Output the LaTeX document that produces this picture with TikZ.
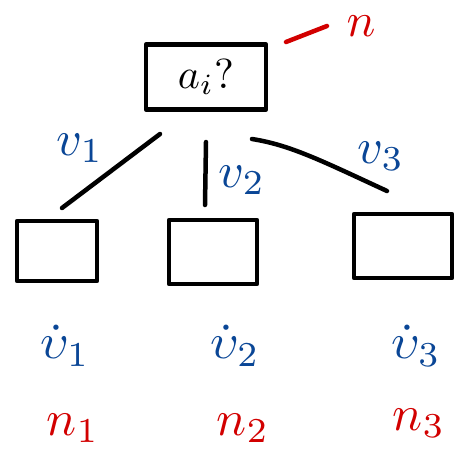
\documentclass[tikz,border=0pt]{standalone}
\usepackage{graphicx}
\usepackage{amsmath}
\definecolor{penblue}{RGB}{10,70,150}
\definecolor{penred}{RGB}{210,0,0}
\begin{document}
\begin{tikzpicture}[x=1pt,y=-1pt,
  ink/.style={line width=4.5pt,line cap=round,line join=round},
  box/.style={ink,draw=black,rectangle},
  bluelbl/.style={text=penblue,inner sep=0pt},
  redlbl/.style={text=penred,inner sep=0pt}]
\useasboundingbox (0,0) rectangle (455,458);
% top node
\node[box,minimum width=120pt,minimum height=65pt] (top) at (206,77) {\scalebox{4.2}{$a_i?$}};
\coordinate (ndash1) at (286,42);
\coordinate (ndash2) at (327,26);
\draw[ink,penred] (ndash1) -- (ndash2);
\node[redlbl] (n) at (361,26) {\scalebox{4.8}{$n$}};
% children
\node[box,minimum width=80pt,minimum height=60pt] (c1) at (57,251) {};
\node[box,minimum width=88pt,minimum height=64pt] (c2) at (213,252) {};
\node[box,minimum width=98pt,minimum height=64pt] (c3) at (403,246) {};
% edges
\coordinate (e1s) at (160,134);
\coordinate (e1e) at (62,208);
\coordinate (e2s) at (206,142);
\coordinate (e2e) at (205,205);
\coordinate (e3s) at (252,139);
\coordinate (e3e) at (387,191);
\draw[ink] (e1s) -- (e1e);
\draw[ink] (e2s) -- (e2e);
\draw[ink] (e3s) .. controls (290,145) and (320,160) .. (e3e);
\node[bluelbl] (v1) at (80,148) {\scalebox{5}{$v_1$}};
\node[bluelbl] (v2) at (242,180) {\scalebox{5}{$v_2$}};
\node[bluelbl] (v3) at (381,156) {\scalebox{5}{$v_3$}};
% value labels
\node[bluelbl] (u1) at (65,346) {\scalebox{5}{$\dot{\upsilon}_1$}};
\node[bluelbl] (u2) at (235,346) {\scalebox{5}{$\dot{\upsilon}_2$}};
\node[bluelbl] (u3) at (416,346) {\scalebox{5}{$\dot{\upsilon}_3$}};
% child names
\node[redlbl] (n1) at (73,428) {\scalebox{5}{$n_1$}};
\node[redlbl] (n2) at (243,428) {\scalebox{5}{$n_2$}};
\node[redlbl] (n3) at (419,423) {\scalebox{5}{$n_3$}};
\end{tikzpicture}
\end{document}
